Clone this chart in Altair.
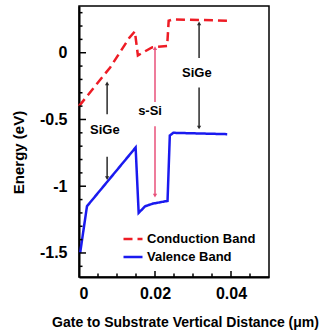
import altair as alt
import pandas as pd

FONT = "Liberation Sans"

# Band edges (x in µm, energy in eV)
cb_x = [0.0, 0.0082, 0.0132, 0.0147, 0.0155, 0.0192, 0.0232, 0.0236, 0.0248, 0.039]
cb_y = [-0.40, -0.11, 0.11, 0.16, -0.02, 0.04, 0.05, 0.24, 0.25, 0.24]
vb_x = [0.0003, 0.0021, 0.0149, 0.0157, 0.0174, 0.0195, 0.0233, 0.0239, 0.0248, 0.039]
vb_y = [-1.50, -1.15, -0.71, -1.20, -1.15, -1.13, -1.11, -0.62, -0.60, -0.61]
series = ["Conduction Band", "Valence Band"]

# Annotation arrows (black: SiGe, red: s-Si)
black_x = [0.0074, 0.0074, 0.0316, 0.0316]
black_from = [-0.46, -0.78, -0.04, -0.26]
black_to = [-0.23, -0.94, 0.22, -0.56]
red_x = [0.020, 0.020]
red_from = [-0.37, -0.55]
red_to = [0.035, -1.07]

# Annotation labels
label_text = ["SiGe", "s-Si", "SiGe"]
label_x = [0.0068, 0.0187, 0.031]
label_y = [-0.58, -0.44, -0.15]

# Tick positions
y_major = [-1.5, -1.0, -0.5, 0.0]
y_minor = [-1.6, -1.4, -1.3, -1.2, -1.1, -0.9, -0.8, -0.7, -0.6, -0.4, -0.3, -0.2, -0.1, 0.1, 0.2, 0.3]
x_major = [0.02, 0.04]
x_minor = [0.005, 0.01, 0.015, 0.025, 0.03, 0.035, 0.045]

band_df = pd.concat([
    pd.DataFrame({"x": cb_x, "y": cb_y, "band": series[0], "i": range(len(cb_x))}),
    pd.DataFrame({"x": vb_x, "y": vb_y, "band": series[1], "i": range(len(vb_x))}),
])


def arrow_frame(xv, a, b):
    df = pd.DataFrame({"x": xv, "y": a, "y2": b})
    df["shape"] = ["triangle-up" if q > p else "triangle-down" for p, q in zip(a, b)]
    return df


black_df = arrow_frame(black_x, black_from, black_to)
red_df = arrow_frame(red_x, red_from, red_to)
label_df = pd.DataFrame({"t": label_text, "x": label_x, "y": label_y})

xs = alt.Scale(domain=[0, 0.05], nice=False, zero=False)
ys = alt.Scale(domain=[-1.68, 0.35], nice=False, zero=False)

XAX = alt.Axis(
    values=[0, 0.02, 0.04], labelExpr="'' + datum.value",
    title="Gate to Substrate Vertical Distance (μm)", titleX=106, titleY=45,
    titleBaseline="middle", titleAlign="center", titleFontSize=14)
YAX = alt.Axis(
    values=[-1.5, -1, -0.5, 0], labelExpr="'' + datum.value",
    title="Energy (eV)", titleX=-61, titleY=146, titleAngle=270,
    titleBaseline="middle", titleAlign="center", titleFontSize=15,
    labelPadding=12)

W, H = 190, 271

lines = alt.Chart(band_df).mark_line(strokeWidth=2.5).encode(
    x=alt.X("x:Q", scale=xs, axis=XAX),
    y=alt.Y("y:Q", scale=ys, axis=YAX),
    color=alt.Color("band:N", scale=alt.Scale(domain=series, range=["#ee1c25", "#1a1aef"]),
                    legend=alt.Legend(title=None, orient="none", legendX=43, legendY=222)),
    strokeDash=alt.StrokeDash("band:N", scale=alt.Scale(domain=series, range=[[9, 5], [1, 0]]),
                              legend=alt.Legend(title=None, orient="none", legendX=43, legendY=222)),
    order="i:Q",
)


def arrow_layers(df, col):
    rule = alt.Chart(df).mark_rule(strokeWidth=1.5, color=col).encode(
        x=alt.X("x:Q", scale=xs, axis=XAX),
        y=alt.Y("y:Q", scale=ys, axis=YAX),
        y2="y2:Q",
    )
    head = alt.Chart(df).mark_point(filled=True, size=18, opacity=1, color=col).encode(
        x=alt.X("x:Q", scale=xs, axis=XAX),
        y=alt.Y("y2:Q", scale=ys, axis=YAX),
        shape=alt.Shape("shape:N", scale=None, legend=None),
    )
    return [rule, head]


labels = alt.Chart(label_df).mark_text(font=FONT, fontSize=13, fontWeight="bold", color="black").encode(
    x=alt.X("x:Q", scale=xs, axis=XAX),
    y=alt.Y("y:Q", scale=ys, axis=YAX),
    text="t:N",
)


def yticks(vals, length):
    return alt.Chart(pd.DataFrame({"v": vals})).mark_rule(color="black", strokeWidth=1.5).encode(
        y=alt.Y("v:Q", scale=ys, axis=YAX), x=alt.value(0), x2=alt.value(length))


def xticks(vals, length):
    return alt.Chart(pd.DataFrame({"v": vals})).mark_rule(color="black", strokeWidth=1.5).encode(
        x=alt.X("v:Q", scale=xs, axis=XAX), y=alt.value(H), y2=alt.value(H - length))


chart = alt.layer(
    lines, *arrow_layers(black_df, "#2a2a2a"), *arrow_layers(red_df, "#e8507a"), labels,
    yticks(y_major, 7), yticks(y_minor, 3.5), xticks(x_major, 6), xticks(x_minor, 3.5),
).properties(
    width=W, height=H,
    autosize=alt.AutoSizeParams(type="none"),
    padding={"left": 79, "top": 6, "right": 52, "bottom": 56},
).configure_view(
    stroke="black", strokeWidth=1.5,
).configure_axis(
    grid=False, ticks=False, tickSize=0, domainColor="black", domainWidth=2,
    labelFont=FONT, labelFontSize=16, labelFontWeight="bold", labelColor="black",
    titleFont=FONT, titleFontWeight="bold", titleColor="black", labelPadding=8,
).configure_legend(
    padding=0, symbolType="stroke", symbolSize=361, symbolStrokeWidth=2.5,
    labelFont=FONT, labelFontSize=13, labelFontWeight="bold", labelColor="black",
    labelOffset=3, rowPadding=0,
)

chart.save("out.html", embed_options={"renderer": "svg", "actions": False})
